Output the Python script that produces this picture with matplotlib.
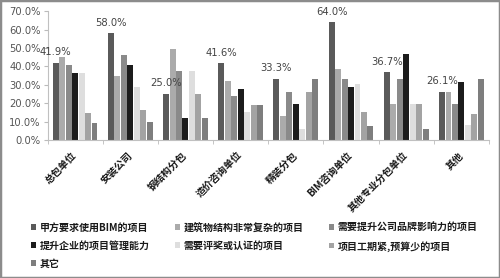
import matplotlib
matplotlib.use("Agg")
import matplotlib.pyplot as plt
import numpy as np
from matplotlib.patches import Rectangle, Patch

plt.rcParams['font.family'] = ['Noto Sans CJK SC', 'DejaVu Sans']

categories = ['总包单位', '安装公司', '钢结构分包', '造价咨询单位', '精装分包',
              'BIM咨询单位', '其他专业分包单位', '其他']
series_names = ['甲方要求使用BIM的项目', '建筑物结构非常复杂的项目', '需要提升公司品牌影响力的项目',
                '提升企业的项目管理能力', '需要评奖或认证的项目', '项目工期紧,预算少的项目', '其它']
s1 = [41.9, 58.0, 25.0, 41.6, 33.3, 64.0, 36.7, 26.1]
s2 = [45.0, 34.7, 49.5, 32.0, 13.2, 38.5, 19.4, 26.1]
s3 = [41.0, 46.3, 37.3, 24.0, 26.0, 33.3, 33.1, 19.4]
s4 = [36.2, 40.5, 11.9, 28.0, 19.4, 28.6, 46.5, 31.5]
s5 = [36.2, 28.9, 37.3, 15.0, 6.0, 30.6, 19.4, 8.3]
s6 = [14.5, 16.3, 25.0, 18.8, 26.0, 15.4, 19.4, 14.3]
s7 = [9.4, 9.8, 11.9, 18.8, 33.3, 7.6, 6.1, 32.9]
series = [s1, s2, s3, s4, s5, s6, s7]
colors = ['#5a5a5a', '#ababab', '#8a8a8a', '#1c1c1c', '#dedede', '#a3a3a3', '#7e7e7e']
yticks = [0, 10, 20, 30, 40, 50, 60, 70]

fig = plt.figure(figsize=(5.0, 2.78), dpi=100)
ax = fig.add_axes([0.095, 0.496, 0.883, 0.464])

n = len(series)
x = np.arange(len(categories))
group_w = 0.82
bw = group_w / n
for i, (vals, c) in enumerate(zip(series, colors)):
    pos = x - group_w / 2 + bw * (i + 0.5)
    ax.bar(pos, vals, width=bw * 0.92, color=c, label=series_names[i], zorder=2)
    if i == 0:
        for xp, v in zip(pos, vals):
            ax.annotate(f'{v:.1f}%', (xp, v), xytext=(0, 4), textcoords='offset points',
                        ha='center', va='bottom', fontsize=7.2, color='#444444',
                        family='DejaVu Sans')

ax.set_xlim(-0.5, len(categories) - 0.5)
ax.set_ylim(0, 70)
ax.set_yticks(yticks)
ax.set_yticklabels([f'{t:.1f}%' for t in yticks], fontsize=7.2, color='#555555',
                   family='DejaVu Sans')
ax.tick_params(axis='y', length=3, color='#bbbbbb', pad=2)

ax.set_xticks(x)
ax.set_xticklabels(categories, rotation=45, ha='right', va='center',
                   rotation_mode='anchor', fontsize=7.2, fontweight='bold', color='#1a1a1a')
ax.tick_params(axis='x', which='major', length=0, pad=10)
ax.set_xticks(np.arange(len(categories) + 1) - 0.5, minor=True)
ax.tick_params(axis='x', which='minor', length=3, color='#bbbbbb')

for s in ['top', 'right']:
    ax.spines[s].set_visible(False)
for s in ['left', 'bottom']:
    ax.spines[s].set_color('#c0c0c0')
    ax.spines[s].set_linewidth(0.8)

handles = [Patch(facecolor=c) for c in colors]
order = [0, 3, 6, 1, 4, 2, 5]
fig.legend([handles[i] for i in order], [series_names[i] for i in order],
           ncol=3, loc='upper left', bbox_to_anchor=(0.062, 0.2),
           frameon=False, prop={'size': 7.2, 'weight': 'bold'},
           handlelength=0.45, handleheight=0.45, handletextpad=0.4,
           columnspacing=2.55, labelspacing=0.8, borderpad=0, borderaxespad=0,
           labelcolor='#1a1a1a')

fig.patches.append(Rectangle((0, 0), 1, 1, transform=fig.transFigure, fill=False,
                             edgecolor='#8c8c8c', linewidth=2.5, zorder=10))

fig.savefig('out.png', dpi=100)
